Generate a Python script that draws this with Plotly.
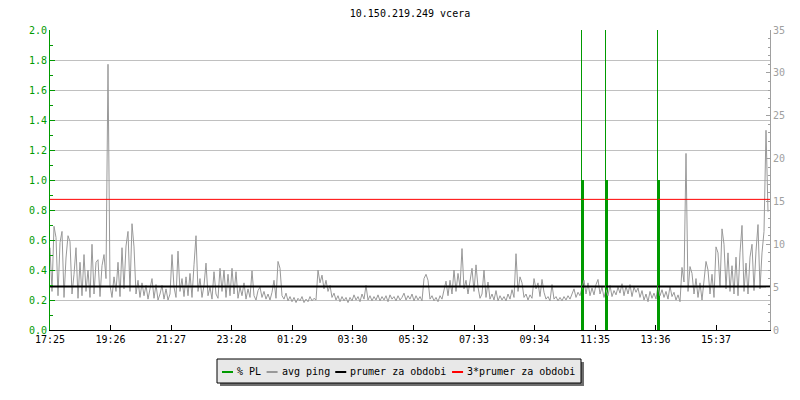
import pandas as pd
import plotly.graph_objects as go

# ---------------- data ----------------
title_text = "10.150.219.249 vcera"
start_time = "2024-01-01 17:25"
sample_minutes = 4

avg_ping = [
    9.6, 4.5, 12.1, 10.8, 4.0, 10.2, 11.5, 3.8, 8.4, 11.0, 10.3, 4.2, 6.5, 9.6, 3.7,
    7.9, 4.0, 8.8, 4.5, 7.0, 3.8, 10.0, 4.2, 7.9, 8.2, 3.9, 7.5, 8.8, 6.0, 31.0,
    5.2, 3.8, 6.2, 4.5, 7.9, 3.9, 9.6, 4.8, 9.8, 11.5, 4.5, 12.4, 9.7, 4.2, 5.8,
    3.8, 5.5, 4.0, 5.2, 3.6, 4.8, 6.0, 3.7, 5.3, 3.5, 4.2, 5.2, 3.6, 4.8, 3.5,
    4.2, 8.8, 5.0, 3.8, 9.2, 4.5, 6.0, 3.9, 6.2, 4.0, 6.6, 3.8, 7.6, 11.0, 4.5,
    6.0, 3.8, 5.2, 7.8, 4.0, 5.0, 3.6, 6.8, 4.2, 3.7, 7.2, 4.5, 7.0, 3.8, 6.5,
    4.0, 7.2, 4.2, 6.8, 3.7, 5.0, 4.0, 5.5, 3.6, 4.8, 3.8, 6.9, 4.0, 3.5, 4.6,
    5.0, 3.8, 4.5, 3.6, 4.2, 3.5, 4.4, 5.8, 3.7, 8.0, 7.2, 4.0, 3.6, 4.3, 3.4,
    3.9, 3.3, 3.8, 3.2, 3.7, 3.4, 3.9, 3.2, 3.6, 3.3, 3.9, 3.4, 3.7, 3.5, 7.0,
    5.5, 6.4, 4.8, 5.8, 4.5, 5.2, 3.8, 4.3, 3.5, 4.0, 3.3, 3.9, 3.4, 3.8, 3.2,
    3.8, 3.4, 4.1, 3.5, 3.9, 3.3, 4.2, 3.6, 5.2, 3.5, 4.0, 3.4, 3.9, 3.5, 4.1,
    3.4, 3.9, 3.5, 4.0, 3.3, 4.1, 3.6, 3.9, 3.4, 4.0, 3.5, 3.8, 4.3, 3.5, 4.0,
    3.6, 4.2, 3.4, 4.0, 3.5, 3.9, 3.4, 6.0, 6.5, 5.8, 3.6, 4.0, 3.4, 3.8, 3.3,
    4.0, 3.6, 4.6, 5.7, 4.0, 5.8, 4.2, 7.0, 4.5, 6.6, 5.0, 9.5, 4.8, 5.8, 4.2,
    5.5, 7.2, 4.5, 7.6, 5.0, 3.7, 4.2, 7.0, 3.8, 5.6, 3.6, 4.2, 3.5, 4.6, 3.4,
    4.0, 3.5, 3.9, 3.4, 4.2, 3.6, 4.7, 3.8, 8.9, 4.5, 6.2, 5.5, 3.8, 4.2, 3.5,
    4.1, 3.7, 6.0, 4.8, 5.5, 3.9, 5.9, 4.4, 3.6, 3.9, 3.4, 5.3, 3.6, 3.9, 3.4,
    3.8, 3.4, 3.9, 3.5, 4.0, 3.6, 4.2, 4.8, 3.8, 4.4, 4.0, 5.0, 5.8, 4.2, 5.5,
    4.0, 4.9, 4.1, 5.3, 5.9, 4.2, 5.0, 3.8, 4.7, 4.0, 5.2, 3.9, 4.6, 4.1, 5.0,
    4.3, 5.4, 4.0, 5.1, 4.2, 5.3, 3.9, 5.0, 4.4, 4.9, 3.8, 4.6, 3.5, 4.2, 3.3,
    4.5, 3.7, 4.3, 3.6, 5.2, 4.0, 4.7, 3.8, 4.5, 3.6, 5.1, 3.9, 4.4, 3.5, 4.1,
    3.3, 7.3, 5.6, 20.6, 4.5, 7.4, 6.6, 4.2, 6.0, 3.8, 5.5, 3.5, 5.8, 8.0, 7.0,
    4.2, 6.5, 3.8, 9.7, 9.0, 5.0, 11.8, 10.0, 4.8, 9.0, 4.5, 7.5, 4.2, 8.5, 4.0,
    9.0, 12.2, 4.5, 7.8, 4.2, 8.5, 10.0, 4.6, 9.2, 12.3, 4.8, 9.0, 11.5, 23.3, 13.8,
]

pl_times = ["11:08", "11:56", "13:40"]
pl_values = [1.0, 1.0, 1.0]
prumer = 5.08

tick_labels = ["17:25", "19:26", "21:27", "23:28", "01:29", "03:30",
               "05:32", "07:33", "09:34", "11:35", "13:36", "15:37"]

left_range = [0, 2.0]
right_range = [0, 35]

# ---------------- helpers ----------------
t0 = pd.Timestamp(start_time)
t_end = t0 + pd.Timedelta(hours=24)


def clock_to_ts(label):
    hh, mm = map(int, label.split(":"))
    ts = t0.normalize() + pd.Timedelta(hours=hh, minutes=mm)
    if ts < t0:
        ts += pd.Timedelta(days=1)
    return ts


times = pd.date_range(t0, periods=len(avg_ping), freq=f"{sample_minutes}min")
tick_vals = [clock_to_ts(l) for l in tick_labels]
pl_ts = [clock_to_ts(l) for l in pl_times]

GREEN = "#009a00"
GREY = "#999999"
AXGREY = "#a0a0a0"
RED = "#ff0000"
FONT = "DejaVu Sans Mono"

# plot area in pixels
L, R, T, B = 50, 30, 30, 70
W, H = 800, 400
PW, PH = W - L - R, H - T - B


def px(x):
    return (x - L) / PW


def py(y):
    return (H - B - y) / PH


fig = go.Figure()

# % PL thick bars
fig.add_trace(go.Bar(
    x=pl_ts, y=pl_values, name="% PL",
    width=[4 * 60 * 1000] * len(pl_ts), offset=0,
    marker=dict(color=GREEN, line=dict(width=0)),
    yaxis="y", showlegend=False,
))

# avg ping
fig.add_trace(go.Scatter(
    x=times, y=avg_ping, name="avg ping", mode="lines",
    line=dict(color=GREY, width=1), yaxis="y2", showlegend=False,
))

# prumer za obdobi
fig.add_trace(go.Scatter(
    x=[t0, t_end], y=[prumer, prumer], name="prumer za obdobi", mode="lines",
    line=dict(color="black", width=2), yaxis="y2", showlegend=False,
))

# 3*prumer za obdobi
fig.add_trace(go.Scatter(
    x=[t0, t_end], y=[3 * prumer, 3 * prumer], name="3*prumer za obdobi",
    mode="lines", line=dict(color=RED, width=1), yaxis="y2", showlegend=False,
))

shapes = []
# thin PL rules to the top
for t in pl_ts:
    shapes.append(dict(type="line", xref="x", yref="paper", x0=t, x1=t, y0=0, y1=1,
                       line=dict(color=GREEN, width=1), layer="above"))

# legend (manual, rrdtool style)
legend_items = [("% PL", GREEN), ("avg ping", GREY),
                ("prumer za obdobi", "black"), ("3*prumer za obdobi", RED)]
box_x0, box_x1, box_y0, box_y1 = 217, 581, 359, 383
shapes.append(dict(type="rect", xref="paper", yref="paper",
                   x0=px(box_x0 + 3), x1=px(box_x1 + 3), y0=py(box_y1 + 3), y1=py(box_y0 + 3),
                   fillcolor="#6e6e6e", line=dict(width=0), layer="above"))
shapes.append(dict(type="rect", xref="paper", yref="paper",
                   x0=px(box_x0), x1=px(box_x1), y0=py(box_y1), y1=py(box_y0),
                   fillcolor="#e8e8e8", line=dict(color="black", width=1), layer="above"))

annotations = []
cx = 222
char_w = 6.02
for text, col in legend_items:
    shapes.append(dict(type="line", xref="paper", yref="paper",
                       x0=px(cx), x1=px(cx + 11), y0=py(372), y1=py(372),
                       line=dict(color=col, width=2), layer="above"))
    tx = cx + 14
    annotations.append(dict(text=text, xref="paper", yref="paper", x=px(tx - 1), y=py(371),
                            xanchor="left", yanchor="middle", showarrow=False,
                            font=dict(family=FONT, size=10, color="black")))
    cx = tx + char_w * len(text) + 6.5

fig.update_layout(
    width=W, height=H,
    margin=dict(l=L, r=R, t=T, b=B),
    paper_bgcolor="white", plot_bgcolor="white",
    font=dict(family=FONT, size=10, color="black"),
    title=dict(text=title_text, x=px(410), xref="paper", xanchor="center",
               y=1 - 13 / H, yanchor="middle", font=dict(family=FONT, size=10, color="black")),
    showlegend=False,
    bargap=0,
    xaxis=dict(
        type="date", range=[t0, t_end],
        tickmode="array", tickvals=tick_vals, ticktext=tick_labels,
        ticks="inside", ticklen=5, tickcolor="black", tickwidth=1,
        showline=True, linecolor="black", linewidth=1,
        showgrid=False, zeroline=False,
        tickfont=dict(family=FONT, size=10, color="black"),
    ),
    yaxis=dict(
        range=left_range, tick0=0, dtick=0.2, tickformat=".1f",
        ticks="inside", ticklen=5, tickcolor=GREEN, tickwidth=1,
        minor=dict(dtick=0.1, ticks="inside", ticklen=3, tickcolor=GREEN, showgrid=False),
        showline=True, linecolor=GREEN, linewidth=1,
        showgrid=True, gridcolor="#c0c0c0", gridwidth=1, zeroline=False,
        tickfont=dict(family=FONT, size=10, color=GREEN),
    ),
    yaxis2=dict(
        range=right_range, tick0=0, dtick=5, overlaying="y", side="right",
        ticks="inside", ticklen=4, tickcolor=AXGREY, tickwidth=1,
        minor=dict(dtick=1, ticks="inside", ticklen=2, tickcolor=AXGREY, showgrid=False),
        showline=True, linecolor=AXGREY, linewidth=1,
        showgrid=False, zeroline=False,
        tickfont=dict(family=FONT, size=10, color=AXGREY),
    ),
    shapes=shapes,
    annotations=annotations,
)

fig.write_html(
    "out.html",
    config={"displayModeBar": False, "staticPlot": True},
    post_script="document.documentElement.style.margin='0';"
                "document.body.style.margin='0';document.body.style.overflow='hidden';",
)
